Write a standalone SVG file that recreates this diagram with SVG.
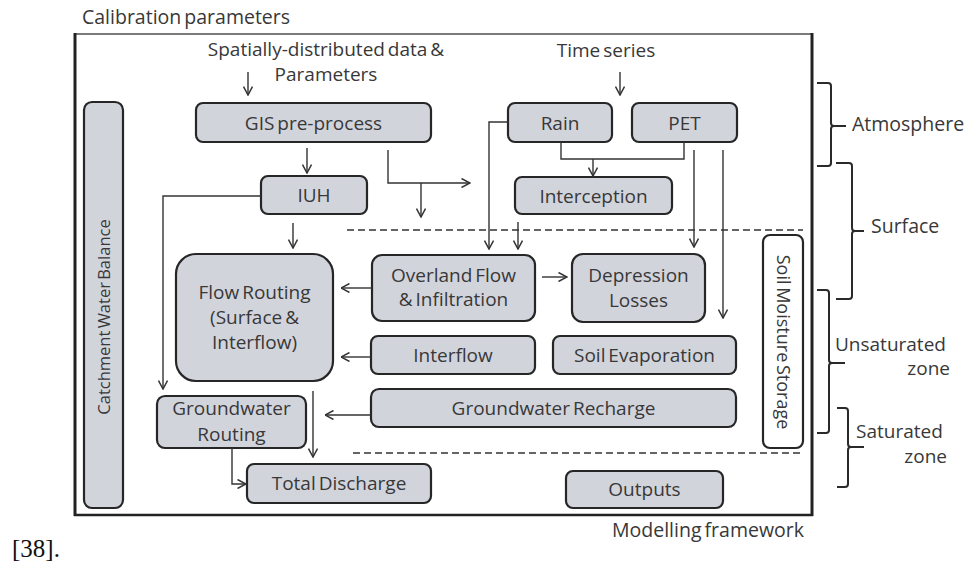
<svg xmlns="http://www.w3.org/2000/svg" width="968" height="565" viewBox="0 0 968 565">
<defs>
<style>
.t{font-family:"Open Sans","Liberation Sans",sans-serif;font-size:19px;fill:#383838;word-spacing:-2px}
.c{text-anchor:middle}
.box{fill:#d2d4dc;stroke:#262626;stroke-width:2.2}
.ln{fill:none;stroke:#333;stroke-width:1.4}
.ar{fill:none;stroke:#333;stroke-width:1.4;marker-end:url(#ah)}
.dash{fill:none;stroke:#333;stroke-width:1.5;stroke-dasharray:7 4}
.br{fill:none;stroke:#2a2a2a;stroke-width:2}
</style>
<marker id="ah" viewBox="0 0 10 10" refX="9.5" refY="5" markerWidth="10" markerHeight="10" markerUnits="userSpaceOnUse" orient="auto">
<path d="M1,0.5 L9.5,5 L1,9.5" fill="none" stroke="#333" stroke-width="1.5"/>
</marker>
</defs>
<rect width="968" height="565" fill="#ffffff"/>

<g id="frame">
<rect x="75" y="34" width="737" height="481" fill="none" stroke="#444" stroke-width="1.4"/>
<line x1="75" y1="33" x2="75" y2="516" stroke="#222" stroke-width="3"/>
<line x1="812" y1="33" x2="812" y2="516" stroke="#222" stroke-width="3"/>
<line x1="74" y1="515" x2="813" y2="515" stroke="#222" stroke-width="2.5"/>
</g>

<g id="labels">
<text class="t" x="82" y="24" style="font-size:19.5px">Calibration parameters</text>
<text class="t c" x="326" y="56">Spatially-distributed data &amp;</text>
<text class="t c" x="326" y="81">Parameters</text>
<text class="t c" x="606" y="57">Time series</text>
<text class="t" x="612" y="537" style="font-size:19.5px">Modelling framework</text>
<text x="12" y="557" font-family="'Liberation Serif',serif" font-size="25" fill="#111">[38].</text>
</g>

<g id="dashes">
<line class="dash" x1="347" y1="230" x2="803" y2="230"/>
<line class="dash" x1="353" y1="453" x2="801" y2="453"/>
</g>

<g id="n-catchment"><rect class="box" x="84" y="102" width="39" height="406" rx="8"/>
<text class="t c" transform="translate(110,317) rotate(-90)" style="font-size:16.5px">Catchment Water Balance</text></g>
<g id="n-soilmoisture"><rect x="763" y="235" width="40" height="213" rx="7" fill="#ffffff" stroke="#262626" stroke-width="2.2"/>
<text class="t c" transform="translate(777,342) rotate(90)" style="font-size:18px">Soil Moisture Storage</text></g>

<g id="n-gis"><rect class="box" x="196" y="103" width="235" height="39" rx="7"/><text class="t c" x="313.5" y="129.5">GIS pre-process</text></g>
<g id="n-rain"><rect class="box" x="508" y="103" width="104" height="39" rx="7"/><text class="t c" x="560" y="129.5">Rain</text></g>
<g id="n-pet"><rect class="box" x="632" y="103" width="105" height="39" rx="7"/><text class="t c" x="684.5" y="129.5">PET</text></g>
<g id="n-iuh"><rect class="box" x="261" y="176" width="106" height="38" rx="7"/><text class="t c" x="314" y="202">IUH</text></g>
<g id="n-interception"><rect class="box" x="515" y="177" width="157" height="37" rx="7"/><text class="t c" x="593.5" y="202.5">Interception</text></g>
<g id="n-overland"><rect class="box" x="372" y="255" width="163" height="66" rx="10"/><text class="t c" x="453.5" y="282">Overland Flow</text><text class="t c" x="453.5" y="306">&amp; Infiltration</text></g>
<g id="n-depression"><rect class="box" x="572" y="254" width="133" height="68" rx="11"/><text class="t c" x="638.5" y="282">Depression</text><text class="t c" x="638.5" y="307">Losses</text></g>
<g id="n-flowrouting"><rect class="box" x="176" y="254" width="157" height="127" rx="20"/><text class="t c" x="254.5" y="299">Flow Routing</text><text class="t c" x="254.5" y="324">(Surface &amp;</text><text class="t c" x="254.5" y="349">Interflow)</text></g>
<g id="n-interflow"><rect class="box" x="371" y="336" width="164" height="38" rx="7"/><text class="t c" x="453" y="362">Interflow</text></g>
<g id="n-soilevap"><rect class="box" x="553" y="336" width="183" height="38" rx="7"/><text class="t c" x="644.5" y="362">Soil Evaporation</text></g>
<g id="n-gwrecharge"><rect class="box" x="371" y="389" width="365" height="38" rx="8"/><text class="t c" x="553.5" y="415">Groundwater Recharge</text></g>
<g id="n-gwrouting"><rect class="box" x="157" y="396" width="149" height="52" rx="8"/><text class="t c" x="231.5" y="415">Groundwater</text><text class="t c" x="231.5" y="441">Routing</text></g>
<g id="n-totaldischarge"><rect class="box" x="247" y="464" width="184" height="39" rx="7"/><text class="t c" x="339" y="490">Total Discharge</text></g>
<g id="n-outputs"><rect class="box" x="566" y="471" width="157" height="37" rx="7"/><text class="t c" x="644.5" y="496">Outputs</text></g>

<g id="connectors">
<path class="ar" d="M248,72 V95"/>
<path class="ar" d="M620,72 V95"/>
<path class="ar" d="M307,148 V173"/>
<path class="ar" d="M388,150 V183 H470"/>
<path class="ar" d="M421,183 V217"/>
<path class="ar" d="M261,196 H163 V389"/>
<path class="ar" d="M293,223 V248"/>
<path class="ln" d="M561,142 V159 H684 V142"/>
<path class="ar" d="M593,159 V176"/>
<path class="ar" d="M508,122 H489 V249"/>
<path class="ar" d="M518,222 V249"/>
<path class="ar" d="M694,150 V247"/>
<path class="ar" d="M723,150 V318"/>
<path class="ar" d="M542,277 H567"/>
<path class="ar" d="M372,288 H341"/>
<path class="ar" d="M371,357 H341"/>
<path class="ar" d="M371,415 H325"/>
<path class="ar" d="M313,391 V457"/>
<path class="ar" d="M232,448 V484 H246"/>
</g>

<g id="zones">
<path class="br" d="M817,83 H828 Q831,83 831,86 V123 Q831,126 834,126 H846 M834,126 Q831,126 831,129 V163 Q831,166 828,166 H817"/>
<text class="t" x="852" y="131" style="font-size:19.5px">Atmosphere</text>
<path class="br" d="M836,163 H849 Q852,163 852,166 V228 Q852,231 855,231 H864 M855,231 Q852,231 852,234 V296 Q852,299 849,299 H836"/>
<text class="t" x="871" y="233" style="font-size:19.5px">Surface</text>
<path class="br" d="M817,290 H826 Q829,290 829,293 V360 Q829,363 832,363 H845 M832,363 Q829,363 829,366 V430 Q829,433 826,433 H817"/>
<text class="t" x="835" y="351">Unsaturated</text>
<text class="t" x="950" y="375" text-anchor="end">zone</text>
<path class="br" d="M837,408 H845 Q848,408 848,411 V444 Q848,447 851,447 H864 M851,447 Q848,447 848,450 V484 Q848,487 845,487 H837"/>
<text class="t" x="856" y="438">Saturated</text>
<text class="t" x="947" y="463" text-anchor="end">zone</text>
</g>
</svg>
